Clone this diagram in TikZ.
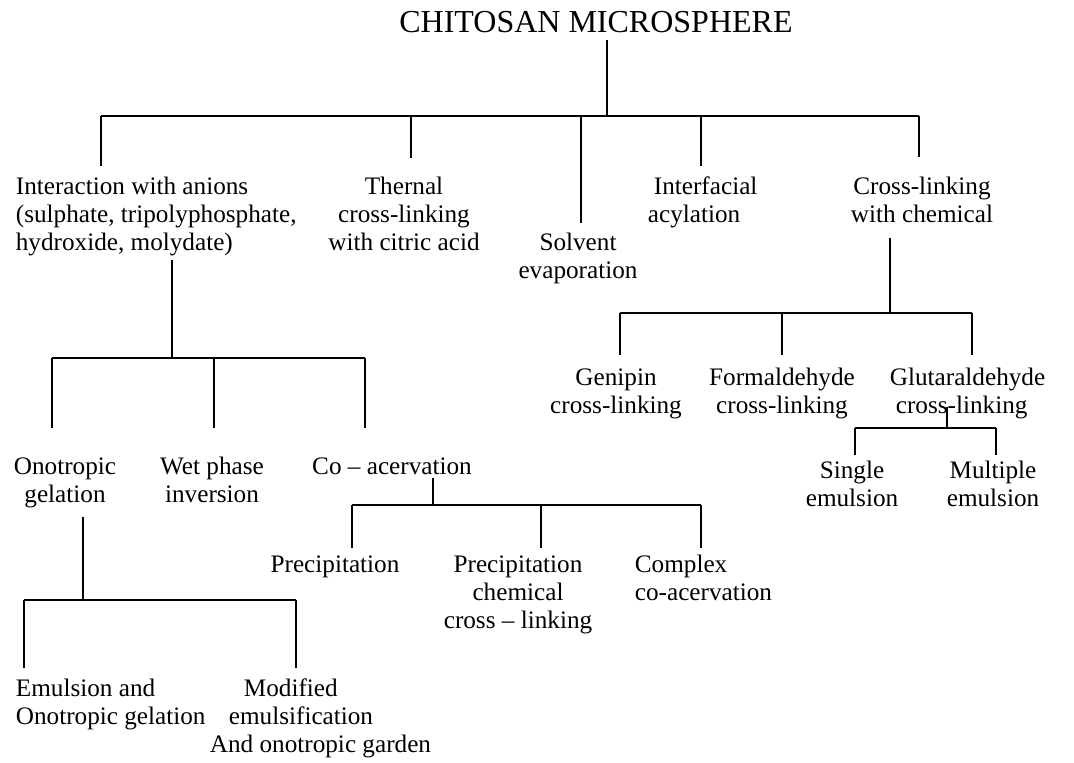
\documentclass[tikz,border=0pt]{standalone}
\usepackage{fontspec}
\setmainfont{Liberation Serif}
\begin{document}
\begin{tikzpicture}[x=0.5pt,y=-0.5pt,line width=0.9pt,line cap=butt,line join=miter,
  lbl/.style={font=\fontsize{12.6}{14}\selectfont,inner sep=0pt,anchor=base,align=center},
  lbll/.style={lbl,anchor=base west,align=left}]
\path[use as bounding box] (0,0) rectangle (1074,762);
% Root node; pixel embedding of the scanned chart (base = last line).
\node[font=\fontsize{16}{19}\selectfont,inner sep=0pt,anchor=base] (root) at (596,32) {CHITOSAN MICROSPHERE};
% Level 1 nodes.
\node[lbll] (anions) at (15,250) {Interaction with anions\\(sulphate, tripolyphosphate,\\hydroxide, molydate)};
\node[lbl] (thermal) at (404,250) {Thernal\\cross-linking\\with citric acid};
\node[lbl] (solvent) at (578,278) {Solvent\\evaporation};
\node[lbll] (interfacial) at (647,222) {\hspace*{3pt}Interfacial\\acylation};
\node[lbl] (chemical) at (922,222) {Cross-linking\\with chemical};
% Tree t1: root to level 1.
\coordinate (t1-top) at (607,40);
\coordinate (t1-mid) at (607,116);
\coordinate (t1-a) at (101,116);
\coordinate (t1-b) at (411,116);
\coordinate (t1-c) at (581,116);
\coordinate (t1-d) at (701,116);
\coordinate (t1-e) at (919,116);
% Edge e1: root--bar.
\draw (t1-top) -- (t1-mid);
\draw (t1-a) -- (t1-e);
% Edges e2..e6: bar--children.
\draw (t1-a) -- ++(0,50);
\draw (t1-b) -- ++(0,42);
\draw (t1-c) -- ++(0,107);
\draw (t1-d) -- ++(0,50);
\draw (t1-e) -- ++(0,41);
% Level 2, chemical branch.
\node[lbl] (genipin) at (616,413) {Genipin\\cross-linking};
\node[lbl] (formal) at (782,413) {Formaldehyde\\cross-linking};
\node[lbll] (glutar) at (889,413) {Glutaraldehyde\\\hspace*{3pt}cross-linking};
\coordinate (t2-top) at (890,238);
\coordinate (t2-mid) at (890,313);
\coordinate (t2-a) at (620,313);
\coordinate (t2-b) at (782,313);
\coordinate (t2-c) at (972,313);
\draw (t2-top) -- (t2-mid);
\draw (t2-a) -- (t2-c);
\foreach \k in {a,b,c} \draw (t2-\k) -- ++(0,42);
% Level 3, glutaraldehyde branch.
\node[lbl] (single) at (852,506) {Single\\emulsion};
\node[lbl] (multiple) at (993,506) {Multiple\\emulsion};
\coordinate (t3-top) at (947,407);
\coordinate (t3-mid) at (947,428);
\coordinate (t3-a) at (855,428);
\coordinate (t3-b) at (996,428);
\draw (t3-top) -- (t3-mid);
\draw (t3-a) -- (t3-b);
\foreach \k in {a,b} \draw (t3-\k) -- ++(0,27);
% Level 2, anions branch.
\node[lbl] (onotropic) at (65,502) {Onotropic\\gelation};
\node[lbl] (wetphase) at (212,502) {Wet phase\\inversion};
\node[lbl] (coacerv) at (392,474) {Co -- acervation};
\coordinate (t4-top) at (172,260);
\coordinate (t4-mid) at (172,358);
\coordinate (t4-a) at (52,358);
\coordinate (t4-b) at (214,358);
\coordinate (t4-c) at (365,358);
\draw (t4-top) -- (t4-mid);
\draw (t4-a) -- (t4-c);
\foreach \k in {a,b,c} \draw (t4-\k) -- ++(0,70);
% Level 3, co-acervation branch.
\node[lbl] (precip) at (335,572) {Precipitation};
\node[lbl] (precipchem) at (518,628) {Precipitation\\chemical\\cross -- linking};
\node[lbll] (complex) at (634,600) {Complex\\co-acervation};
\coordinate (t5-top) at (433,478);
\coordinate (t5-mid) at (433,505);
\coordinate (t5-a) at (352,505);
\coordinate (t5-b) at (541,505);
\coordinate (t5-c) at (701,505);
\draw (t5-top) -- (t5-mid);
\draw (t5-a) -- (t5-c);
\foreach \k in {a,b,c} \draw (t5-\k) -- ++(0,43);
% Level 3, onotropic branch.
\node[lbll] (emulonot) at (15,724) {Emulsion and\\Onotropic gelation};
\node[lbll] (modified) at (209,752) {\hspace*{17pt}Modified\\\hspace*{9.5pt}emulsification\\And onotropic garden};
\coordinate (t6-top) at (83,517);
\coordinate (t6-mid) at (83,600);
\coordinate (t6-a) at (24,600);
\coordinate (t6-b) at (296,600);
\draw (t6-top) -- (t6-mid);
\draw (t6-a) -- (t6-b);
\foreach \k in {a,b} \draw (t6-\k) -- ++(0,68);
\end{tikzpicture}
\end{document}
